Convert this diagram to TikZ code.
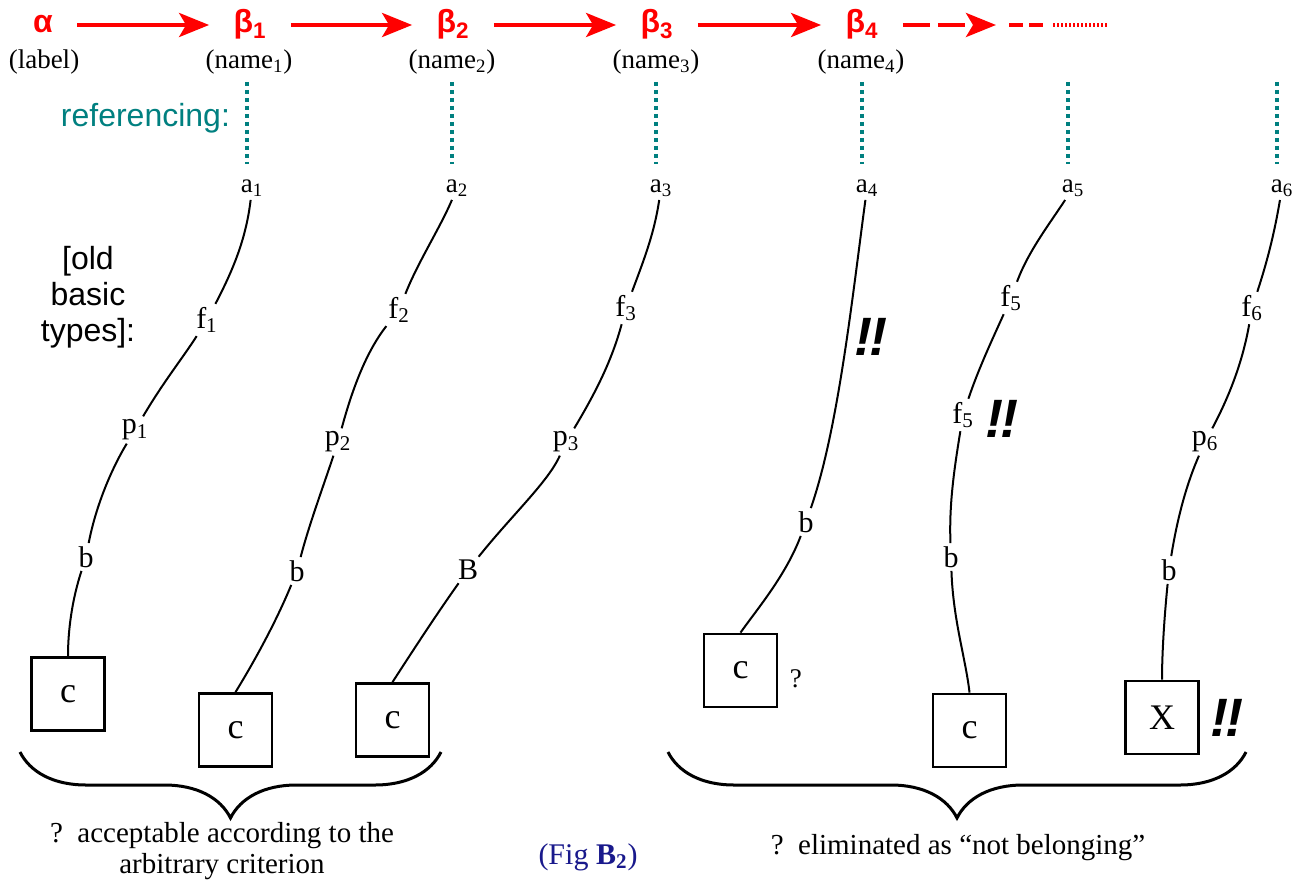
\documentclass[tikz,border=0pt]{standalone}
\usepackage{fontspec}
\setmainfont{Liberation Serif}
\setsansfont{Liberation Sans}
\usepackage{xcolor}
\usepackage{tikz}
\usetikzlibrary{decorations.pathreplacing}
\usetikzlibrary{positioning, calc, arrows.meta}
\definecolor{refteal}{RGB}{0,128,128}
\definecolor{figblue}{RGB}{25,25,140}
\tikzset{
    greeknode/.style={
        text=red, font=\sffamily\bfseries\fontsize{16}{18}\selectfont, inner sep=0pt, text height=12pt, text depth=4pt
    },
    lblnode/.style={
        font=\fontsize{13.5}{15.5}\selectfont, inner sep=1.5pt
    },
    chainlbl/.style={
        font=\fontsize{15}{17}\selectfont, inner sep=1.5pt
    },
    boxnode/.style={
        draw, line width=1.4pt, minimum size=36.5pt, inner sep=0pt, font=\fontsize{18}{20}\selectfont
    },
    bang/.style={
        font=\sffamily\bfseries\itshape\fontsize{27}{30}\selectfont, inner sep=1pt
    },
    redarrow/.style={
        -{Stealth[length=15pt, width=12pt, inset=3.5pt]}, line width=2pt, red, shorten <=12pt, shorten >=12pt
    },
    refline/.style={
        refteal, line width=2pt, dash pattern=on 2pt off 2pt
    },
    link/.style={
        line width=1pt
    },
    bracedraw/.style={
        decorate, decoration={brace, mirror, amplitude=33pt}, line width=1.5pt
    }
}
\begin{document}
\begin{tikzpicture}[x=0.5pt, y=-0.5pt,
        sidetext/.style={font=\sffamily\fontsize{16}{18}\selectfont},
        bottomtext/.style={font=\fontsize{14.5}{15.5}\selectfont, align=center}
    ]
    \path[use as bounding box, fill=white] (0,0) rectangle (1294,882);

    % hang tren: alpha -> beta
    \node[greeknode] (alpha) at (43,25) {α};
    \node[lblnode] (label) at (44,62) {(label)};
    \foreach \i/\x in {1/250,2/453,3/657,4/862} {
        \node[greeknode] (beta\i) at (\x,25) {β\textsubscript{\i}};
        \node[lblnode] (name\i) at (\x-1,62) {(name\textsubscript{\i})};
    }
    \draw[redarrow] (alpha) -- (beta1);
    \foreach \i [count=\j from 2] in {1,2,3}
        \draw[redarrow] (beta\i) -- (beta\j);
    \coordinate (d1) at (996,25);
    \draw[redarrow, shorten >=0pt, dash pattern=on 13.5pt off 4pt] (beta4) -- (d1);
    \coordinate (d2) at (1009,25);
    \coordinate (d3) at (1044,25);
    \draw[red, line width=2pt, dash pattern=on 7pt off 3pt] (d2) -- (d3);
    \coordinate (d4) at (1053,25);
    \coordinate (d5) at (1108,25);
    \draw[red, line width=2pt, dash pattern=on 1pt off 1pt] (d4) -- (d5);

    % referencing
    \node[sidetext, text=refteal, anchor=east] (refer) at (237,118) {referencing:};
    \node[sidetext, align=center] (oldtypes) at (88,297) {[old\\basic\\types]:};
    \foreach \i/\x in {1/247,2/452,3/656,4/862,5/1068,6/1277} {
        \coordinate (r\i) at (\x,82);
        \coordinate (s\i) at (\x,164);
        \draw[refline] (r\i) -- (s\i);
        \node[lblnode] (a\i) at (\x+5,188) {a\textsubscript{\i}};
    }

    % chuoi 1
    \node[chainlbl] (f1) at (207,320) {f\textsubscript{1}};
    \node[chainlbl] (p1) at (135,430) {p\textsubscript{1}};
    \node[chainlbl] (b1) at (86,557) {b};
    \node[boxnode] (c1) at (68,694) {c};
    \draw[link] (a1) .. controls (246,240) and (232,272) .. (f1);
    \draw[link] (f1) .. controls (182,359) and (164,381) .. (p1);
    \draw[link] (p1) .. controls (112,468) and (96,505) .. (b1);
    \draw[link] (b1) .. controls (72,600) and (68,630) .. (c1.north);

    % chuoi 2
    \node[chainlbl] (f2) at (399,310) {f\textsubscript{2}};
    \node[chainlbl] (p2) at (338,442) {p\textsubscript{2}};
    \node[chainlbl] (b2) at (297,571) {b};
    \node[boxnode] (c2) at (235.5,730) {c};
    \draw[link] (a2) .. controls (440,228) and (418,262) .. (f2);
    \draw[link] (f2) .. controls (366,352) and (352,390) .. (p2);
    \draw[link] (p2) .. controls (322,490) and (309,525) .. (b2);
    \draw[link] (b2) .. controls (276,622) and (254,662) .. (c2.north);

    % chuoi 3
    \node[chainlbl] (f3) at (626,308) {f\textsubscript{3}};
    \node[chainlbl] (p3) at (566,442) {p\textsubscript{3}};
    \node[chainlbl] (b3) at (468,570) {B};
    \node[boxnode] (c3) at (392.5,720) {c};
    \draw[link] (a3) .. controls (654,235) and (643,262) .. (f3);
    \draw[link] (f3) .. controls (612,360) and (596,392) .. (p3);
    \draw[link] (p3) .. controls (548,482) and (512,515) .. (b3);
    \draw[link] (b3) .. controls (436,615) and (412,652) .. (c3.north);

    % chuoi 4
    \node[chainlbl] (b4) at (806,522) {b};
    \node[boxnode] (c4) at (740.5,670.5) {c};
    \draw[link] (a4) .. controls (852,300) and (838,430) .. (b4);
    \draw[link] (b4) .. controls (786,575) and (758,608) .. (c4.north);
    \node[bang] (w4) at (871,337) {!\kern-1.5pt!};
    \node[lblnode, right=4pt of c4, yshift=-4pt] (q4) {?};

    % chuoi 5
    \node[chainlbl] (f5) at (1011,298) {f\textsubscript{5}};
    \node[chainlbl] (g5) at (963,415) {f\textsubscript{5}};
    \node[chainlbl] (b5) at (951,557) {b};
    \node[boxnode] (c5) at (969.5,730.5) {c};
    \draw[link] (a5) .. controls (1048,226) and (1028,252) .. (f5);
    \draw[link] (f5) .. controls (992,340) and (978,370) .. (g5);
    \draw[link] (g5) .. controls (954,470) and (949,505) .. (b5);
    \draw[link] (b5) .. controls (953,620) and (966,660) .. (c5.north);
    \node[bang] (w5) at (1002,419) {!\kern-1.5pt!};

    % chuoi 6
    \node[chainlbl] (f6) at (1252,308) {f\textsubscript{6}};
    \node[chainlbl] (p6) at (1205,442) {p\textsubscript{6}};
    \node[chainlbl] (b6) at (1169,570) {b};
    \node[boxnode] (x6) at (1162,717.5) {X};
    \draw[link] (a6) .. controls (1274,235) and (1267,262) .. (f6);
    \draw[link] (f6) .. controls (1243,360) and (1230,395) .. (p6);
    \draw[link] (p6) .. controls (1186,485) and (1177,520) .. (b6);
    \draw[link] (b6) .. controls (1164,620) and (1162,655) .. (x6.north);
    \node[bang, right=4pt of x6] (w6) {!\kern-1.5pt!};

    % ngoac nhon va chu thich
    \coordinate (bl1) at (20,752);
    \coordinate (bl2) at (441,752);
    \draw[bracedraw] (bl1) -- (bl2);
    \coordinate (br1) at (668,752);
    \coordinate (br2) at (1246,752);
    \draw[bracedraw] (br1) -- (br2);
    \node[bottomtext] (accept) at (222,851) {?~~acceptable according to the\\arbitrary criterion};
    \node[bottomtext] (elim) at (958,848) {?~~eliminated as “not belonging”};
    \node[font=\fontsize{15}{17}\selectfont, text=figblue] (fig) at (588,857) {(Fig \textbf{B\textsubscript{2}})};

\end{tikzpicture}
\end{document}
